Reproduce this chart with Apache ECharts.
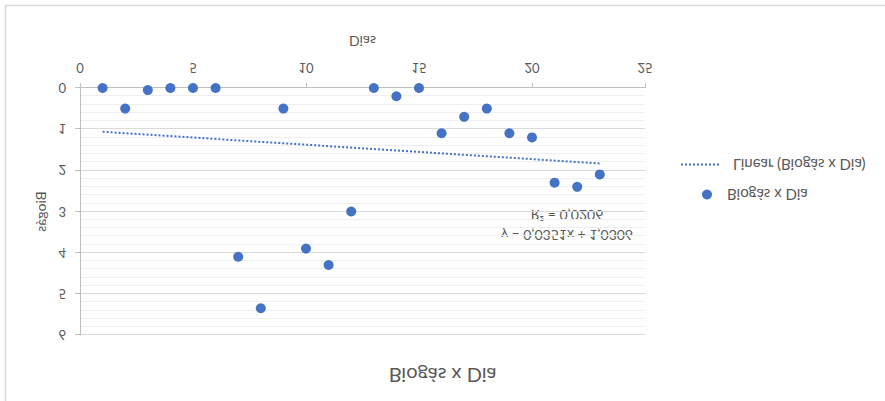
<!DOCTYPE html>
<html>
<head>
<meta charset="utf-8">
<script src="https://cdn.jsdelivr.net/npm/echarts@6/dist/echarts.min.js"></script>
<style>
  html, body { margin: 0; padding: 0; background: #fff; }
  #wrap { width: 885px; height: 401px; transform: scaleY(-1); transform-origin: 50% 50%; }
  #chart { width: 885px; height: 401px; }
</style>
</head>
<body>
<div id="wrap"><div id="chart"></div></div>
<script>
// Data read from the (vertically mirrored) reference picture
const dias   = [1, 2, 3, 4, 5, 6, 7, 8, 9, 10, 11, 12, 13, 14, 15, 16, 17, 18, 19, 20, 21, 22, 23];
const biogas = [0, 0.5, 0.05, 0, 0, 0, 4.1, 5.35, 0.5, 3.9, 4.3, 3.0, 0, 0.2, 0, 1.1, 0.7, 0.5, 1.1, 1.2, 2.3, 2.4, 2.1];
const xTicks = [0, 5, 10, 15, 20, 25];
const yTicks = [0, 1, 2, 3, 4, 5, 6];
const chartTitle = 'Biogás x Dia';
const seriesName = 'Biogás x Dia';
const trendName = 'Linear (Biogás x Dia)';
const eqText = 'y = 0,0351x + 1,0306';
const r2Text = 'R² = 0,0206';

// least-squares trendline through the data
const n = dias.length;
const mx = dias.reduce((a, b) => a + b, 0) / n;
const my = biogas.reduce((a, b) => a + b, 0) / n;
let sxy = 0, sxx = 0;
for (let i = 0; i < n; i++) { sxy += (dias[i] - mx) * (biogas[i] - my); sxx += (dias[i] - mx) ** 2; }
const slope = sxy / sxx, icpt = my - slope * mx;
const xMin = Math.min(...dias), xMax = Math.max(...dias);
const trend = [[xMin, icpt + slope * xMin], [xMax, icpt + slope * xMax]];

const FONT = 'Lato, "Open Sans", sans-serif';
const TXT = '#595959';
const BLUE = '#4472C4';

const chart = echarts.init(document.getElementById('chart'), null, { renderer: 'svg' });
chart.setOption({
  animation: false,
  backgroundColor: '#fff',
  title: {
    text: chartTitle, left: 'center', top: 10,
    textStyle: { fontFamily: FONT, fontSize: 20, fontWeight: 'normal', color: TXT }
  },
  grid: { left: 80, right: 240, top: 66, bottom: 88, containLabel: false },
  xAxis: {
    type: 'value', min: xTicks[0], max: xTicks[xTicks.length - 1], interval: 5,
    name: 'Dias', nameLocation: 'middle', nameGap: 40,
    nameTextStyle: { fontFamily: FONT, fontSize: 14, color: TXT },
    axisLine: { show: true, lineStyle: { color: '#bfbfbf', width: 1 } },
    axisTick: { show: true, length: 5, lineStyle: { color: '#bfbfbf' } },
    axisLabel: { margin: 14, fontFamily: FONT, fontSize: 13, color: TXT },
    splitLine: { show: false }
  },
  yAxis: {
    type: 'value', min: yTicks[0], max: yTicks[yTicks.length - 1], interval: 1,
    name: 'Biogás', nameLocation: 'middle', nameGap: 33, nameRotate: 90,
    nameTextStyle: { fontFamily: FONT, fontSize: 14, color: TXT },
    axisLine: { show: true, lineStyle: { color: '#bfbfbf', width: 1 } },
    axisTick: { show: true, length: 5, lineStyle: { color: '#bfbfbf' } },
    axisLabel: { margin: 14, fontFamily: FONT, fontSize: 13, color: TXT },
    splitLine: { show: true, lineStyle: { color: '#d9d9d9', width: 1 } },
    minorTick: { show: false, splitNumber: 5 },
    minorSplitLine: { show: true, lineStyle: { color: '#efefef', width: 1 } }
  },
  legend: [
    {
      data: [{ name: seriesName, icon: 'circle' }],
      left: 702, top: 199, itemWidth: 10, itemHeight: 10, padding: 0,
      itemStyle: { opacity: 1 },
      textStyle: { fontFamily: FONT, fontSize: 15, color: TXT, padding: [0, 0, 0, 10] }
    },
    {
      data: [trendName],
      left: 680, top: 229, itemWidth: 40, itemHeight: 14, padding: 0,
      itemStyle: { opacity: 0 },
      lineStyle: { width: 2, type: [2, 2] },
      textStyle: { fontFamily: FONT, fontSize: 15, color: TXT, padding: [0, 0, 0, 7] }
    }
  ],
  series: [
    {
      name: seriesName, type: 'scatter', symbol: 'circle', symbolSize: 10,
      itemStyle: { color: BLUE, opacity: 1 },
      data: dias.map((d, i) => [d, biogas[i]]), z: 3
    },
    {
      name: trendName, type: 'line', showSymbol: false, symbol: 'none',
      lineStyle: { color: BLUE, width: 2, type: [2, 2] },
      itemStyle: { color: BLUE },
      data: trend, z: 2
    }
  ],
  graphic: [
    { type: 'polyline', shape: { points: [[5.5, 0], [5.5, 395.5], [885, 395.5]] },
      style: { stroke: '#d9d9d9', lineWidth: 1.5, fill: null }, silent: true },
    { type: 'text', x: 567, y: 166, style: { text: eqText, fontFamily: FONT, fontSize: 14, fill: TXT, align: 'center', verticalAlign: 'middle' } },
    { type: 'text', x: 567, y: 186, style: { text: r2Text, fontFamily: FONT, fontSize: 14, fill: TXT, align: 'center', verticalAlign: 'middle' } }
  ]
});
</script>
</body>
</html>
